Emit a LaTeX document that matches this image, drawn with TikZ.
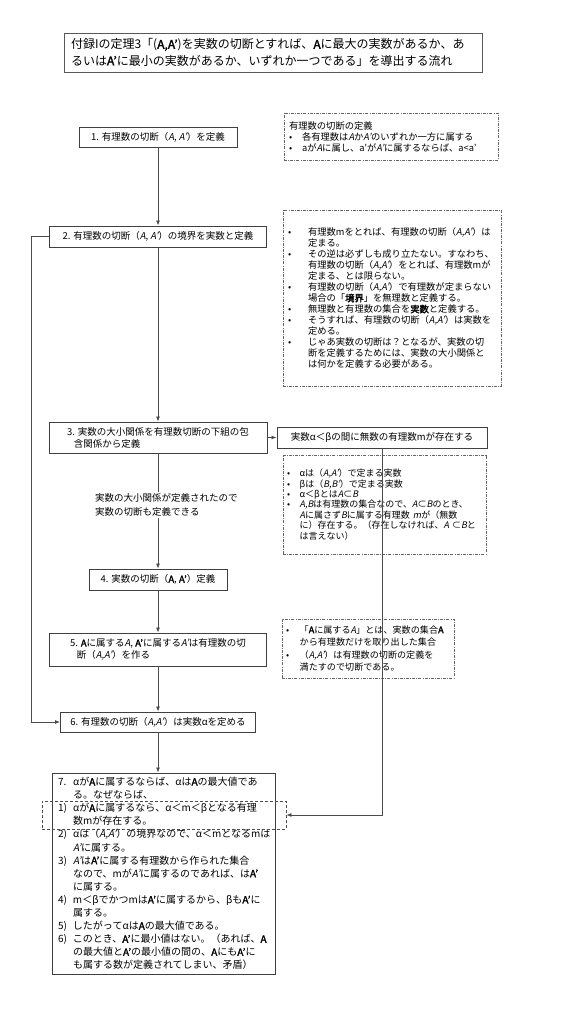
\documentclass[tikz,border=0pt]{standalone}
\usepackage{fontspec}
\setmainfont{Noto Sans CJK JP}[AutoFakeSlant=0.2,AutoFakeBold=2]
\usetikzlibrary{arrows.meta}

\newlength\pucew
\setlength\pucew{2em}

\tikzset{
  boite/.style={draw=black!75,line width=0.9pt,fill=white,inner sep=2pt,align=left,
    font=\fontsize{9.5}{12}\selectfont},
  note/.style={draw=black!60,line width=0.6pt,dash pattern=on 3pt off 1.2pt on 0.8pt off 1.2pt,
    align=left,inner xsep=6pt,inner ysep=2pt,font=\fontsize{9.3}{11}\selectfont},
  lien/.style={draw=black!70,line width=0.8pt},
  fleche/.style={lien,-{Latex[length=5pt,width=4pt]}},
}
\newcommand\puce{\makebox[\pucew][l]{•}}
\newcommand\retrait{\hspace*{\pucew}}
\newcommand\num[1]{\makebox[1.5em][l]{#1}}

\begin{document}
\begin{tikzpicture}[x=1pt,y=-1pt]

\fill[white] (0,0) rectangle (576,1024) ;
\useasboundingbox (0,0) rectangle (576,1024) ;

% titre

\node[draw=black!65,line width=0.8pt,minimum width=418,minimum height=39,text width=404,align=left,
  inner xsep=7pt,font=\fontsize{12}{16.5}\selectfont] (titre) at (273,52.5)
  {付録Iの定理3「(\textbf{A,A'})を実数の切断とすれば、\textbf{A}に最大の実数があるか、あ\\
   るいは\textbf{A'}に最小の実数があるか、いずれか一つである」を導出する流れ} ;

% boites principales

\node[boite,minimum width=158,minimum height=20] (b1) at (158,137)
  {1. 有理数の切断（\textit{A}, \textit{A'}）を定義} ;
\node[boite,minimum width=217,minimum height=21] (b2) at (158,236.5)
  {2. 有理数の切断（\textit{A}, \textit{A'}）の境界を実数と定義} ;
\node[boite,minimum width=218,minimum height=31] (b3) at (158,437.5)
  {3. 実数の大小関係を有理数切断の下組の包\\ \hspace*{0.7em}含関係から定義} ;
\node[boite,minimum width=138,minimum height=21] (b4) at (158,579.5)
  {4. 実数の切断（\textbf{A}, \textbf{A'}）定義} ;
\node[boite,minimum width=217,minimum height=33] (b5) at (158,649.5)
  {5. \textbf{A}に属する\textit{A}, \textbf{A'}に属する\textit{A'}は有理数の切\\
   \hspace*{0.7em}断（\textit{A,A'}）を作る} ;
\node[boite,minimum width=195,minimum height=20] (b6) at (158,722)
  {6. 有理数の切断（\textit{A,A'}）は実数αを定める} ;
\node[boite,minimum width=223,minimum height=201,text width=211,inner xsep=6pt,
  font=\fontsize{10}{13.1}\selectfont] (b7) at (163.5,873.5)
  {\num{7.}αが\textbf{A}に属するならば、αは\textbf{A}の最大値であ\\
   \hspace*{1.5em}る。なぜならば、\\
   \num{1)}αが\textbf{A}に属するなら、α＜m＜βとなる有理\\
   \hspace*{1.5em}数mが存在する。\\
   \num{2)}αは（\textit{A,A'}）の境界なので、α＜mとなるmは\\
   \hspace*{1.5em}\textit{A'}に属する。\\
   \num{3)}\textit{A'}は\textbf{A'}に属する有理数から作られた集合\\
   \hspace*{1.5em}なので、mが\textit{A'}に属するのであれば、は\textbf{A'}\\
   \hspace*{1.5em}に属する。\\
   \num{4)}m＜βでかつmは\textbf{A'}に属するから、βも\textbf{A'}に\\
   \hspace*{1.5em}属する。\\
   \num{5)}したがってαは\textbf{A}の最大値である。\\
   \num{6)}このとき、\textbf{A'}に最小値はない。（あれば、\textbf{A}\\
   \hspace*{1.5em}の最大値と\textbf{A'}の最小値の間の、\textbf{A}にも\textbf{A'}に\\
   \hspace*{1.5em}も属する数が定義されてしまい、矛盾）} ;
\node[draw=black!70,line width=0.8pt,dash pattern=on 3pt off 2pt,minimum width=244,minimum height=28]
  (ovl) at (164,815) {} ;

\node[boite,minimum width=210,minimum height=21] (ab) at (382,437.5)
  {実数α＜βの間に無数の有理数mが存在する} ;

% notes pointillees

\node[note,minimum width=214,minimum height=47,text width=204,inner xsep=5pt,
  font=\fontsize{9.3}{11}\selectfont\setlength\pucew{1.4em}] (n1) at (391,136.5)
  {有理数の切断の定義\\
   \puce 各有理数は\textit{A}か\textit{A'}のいずれか一方に属する\\
   \puce aが\textit{A}に属し、a'が\textit{A'}に属するならば、a<a'} ;
\node[note,minimum width=218,minimum height=176,text width=208,inner xsep=5pt] (n2) at (392,298)
  {\puce 有理数mをとれば、有理数の切断（\textit{A,A'}）は\\
   \retrait 定まる。\\
   \puce その逆は必ずしも成り立たない。すなわち、\\
   \retrait 有理数の切断（\textit{A,A'}）をとれば、有理数mが\\
   \retrait 定まる、とは限らない。\\
   \puce 有理数の切断（\textit{A,A'}）で有理数が定まらない\\
   \retrait 場合の「\textbf{境界}」を無理数と定義する。\\
   \puce 無理数と有理数の集合を\textbf{実数}と定義する。\\
   \puce そうすれば、有理数の切断（\textit{A,A'}）は実数を\\
   \retrait 定める。\\
   \puce じゃあ実数の切断は？となるが、実数の切\\
   \retrait 断を定義するためには、実数の大小関係と\\
   \retrait は何かを定義する必要がある。} ;
\node[note,minimum width=203,minimum height=99,text width=195,inner xsep=4pt,
  font=\fontsize{9}{10.4}\selectfont\setlength\pucew{1.4em}] (n3) at (384.5,504.5)
  {\puce αは（\textit{A,A'}）で定まる実数\\
   \puce βは（\textit{B,B'}）で定まる実数\\
   \puce α＜βとは\textit{A}⊂\textit{B}\\
   \puce \textit{A,B}は有理数の集合なので、\textit{A}⊂\textit{B}のとき、\\
   \retrait \textit{A}に属さず\textit{B}に属する有理数~\textit{m}が（無数\\
   \retrait に）存在する。（存在しなければ、\textit{A}~⊂\textit{B}と\\
   \retrait は言えない）} ;
\node[note,minimum width=172,minimum height=59,text width=164,inner xsep=4pt,
  font=\fontsize{9.1}{12.5}\selectfont\setlength\pucew{1.5em}] (n4) at (368,648.5)
  {\puce 「\textbf{A}に属する\textit{A}」とは、実数の集合\textbf{A}\\
   \retrait から有理数だけを取り出した集合\\
   \puce （\textit{A,A'}）は有理数の切断の定義を\\
   \retrait 満たすので切断である。} ;

% fleches

\draw[fleche] (b1) -- (b2) ;
\draw[fleche] (b2) -- (b3) ;
\draw[fleche] (b3) -- (b4) ;
\draw[fleche] (b4) -- (b5) ;
\draw[fleche] (b5) -- (b6) ;
\draw[fleche] (b6.south) -- (b6.south |- b7.north) ;
\draw[fleche] (b2.west) -- ++(-18,0) |- (b6.west) ;
\draw[fleche] (b3.east) -- (ab.west) ;
\draw[fleche] (ab.south) |- (ovl.east) ;

\node[fill=white,inner sep=2pt,align=left,font=\fontsize{9.5}{14}\selectfont,anchor=west]
  (lbl) at (93,505) {実数の大小関係が定義されたので\\ 実数の切断も定義できる} ;

\end{tikzpicture}
\end{document}
